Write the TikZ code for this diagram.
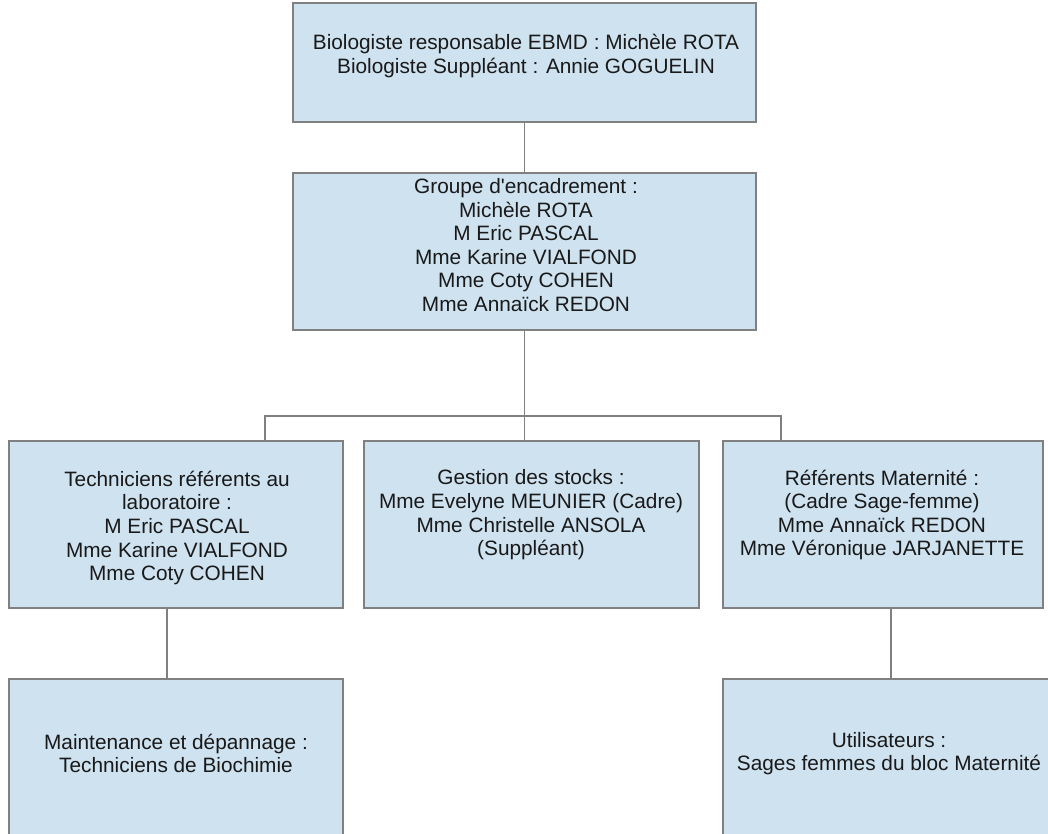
\documentclass[tikz,border=0pt]{standalone}
\usepackage{fontspec}
\setmainfont{Liberation Sans}[Ligatures=TeXOff]
\definecolor{boxfill}{RGB}{207,226,240}
\definecolor{boxline}{RGB}{128,128,128}
\definecolor{txt}{RGB}{25,25,25}
\tikzset{
  orgbox/.style={draw=boxline, fill=boxfill, line width=1.4pt, inner sep=0pt, rectangle},
  orgtxt/.style={align=center, text=txt, font=\fontsize{20.8}{23.6}\selectfont, inner sep=0pt},
  conn/.style={draw=boxline, line width=1.3pt}
}
\begin{document}
\begin{tikzpicture}[x=1pt,y=-1pt]
\useasboundingbox (0,0) rectangle (1048,834);
\clip (0,0) rectangle (1048,834);
\fill[white] (0,0) rectangle (1048,834);
% boxes
\node[orgbox, minimum width=463pt, minimum height=119pt] (top) at (524.5,62.5) {};
\node[orgbox, minimum width=463pt, minimum height=157pt] (grp) at (524.5,251.5) {};
\node[orgbox, minimum width=334pt, minimum height=167pt] (tech) at (176,524.5) {};
\node[orgbox, minimum width=335pt, minimum height=167pt] (stock) at (531.5,524.5) {};
\node[orgbox, minimum width=320pt, minimum height=167pt] (mat) at (883,524.5) {};
\node[orgbox, minimum width=334pt, minimum height=200pt] (maint) at (176,779) {};
\node[orgbox, minimum width=332pt, minimum height=200pt] (users) at (889,779) {};
% texts
\node[orgtxt] (ttop) at (526,56) {Biologiste responsable EBMD : Michèle ROTA\\Biologiste Suppléant : Annie GOGUELIN};
\node[orgtxt] (tgrp) at (526,245) {Groupe d'encadrement :\\Michèle ROTA\\M Eric PASCAL\\Mme Karine VIALFOND\\Mme Coty COHEN\\Mme Annaïck REDON};
\node[orgtxt] (ttech) at (177,528) {Techniciens référents au\\laboratoire :\\M Eric PASCAL\\Mme Karine VIALFOND\\Mme Coty COHEN};
\node[orgtxt] (tstock) at (531,515) {Gestion des stocks :\\Mme Evelyne MEUNIER (Cadre)\\Mme Christelle ANSOLA\\(Suppléant)};
\node[orgtxt] (tmat) at (882,515) {Référents Maternité :\\(Cadre Sage-femme)\\Mme Annaïck REDON\\Mme Véronique JARJANETTE};
\node[orgtxt] (tmaint) at (176,753.5) {Maintenance et dépannage :\\Techniciens de Biochimie};
\node[orgtxt] (tusers) at (889,753.5) {Utilisateurs :\\Sages femmes du bloc Maternité};
% connectors
\coordinate (busL) at (265,416);
\coordinate (busR) at (781,416);
\coordinate (c1) at (167,0);
\coordinate (c2) at (891,0);
\draw[conn] (top.south) -- (grp.north);
\draw[conn] (grp.south) -- (grp.south |- stock.north);
\draw[conn] (busL |- tech.north) -- (busL) -- (busR) -- (busR |- mat.north);
\draw[conn] (c1 |- tech.south) -- (c1 |- maint.north);
\draw[conn] (c2 |- mat.south) -- (c2 |- users.north);
\end{tikzpicture}
\end{document}
